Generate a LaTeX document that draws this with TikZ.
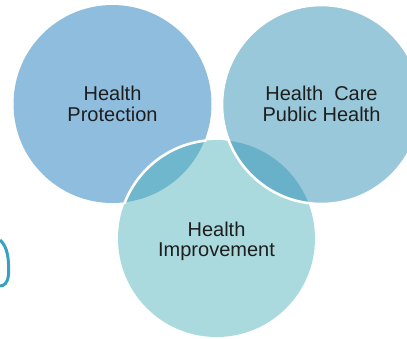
\documentclass[tikz,border=0pt]{standalone}
\usepackage{fontspec}
\setmainfont{Liberation Sans}
\definecolor{colL}{HTML}{8FBDDE}
\definecolor{colR}{HTML}{98C8DA}
\definecolor{colB}{HTML}{AADADE}
\definecolor{colLB}{HTML}{6FB7CD}
\definecolor{colRB}{HTML}{68B1C9}
\definecolor{txt}{HTML}{1E1E1E}
\definecolor{paren}{HTML}{3A9FC4}
\begin{document}
\begin{tikzpicture}[x=1pt,y=-1pt,
  lbl/.style={font=\fontsize{20}{22}\selectfont, text=txt, inner sep=0pt, anchor=base},
  rim/.style={draw=white, line width=2.6pt}]
\useasboundingbox (0,0) rectangle (407,338);
\coordinate (cl) at (112.5,104);
\coordinate (cr) at (321.5,104.5);
\coordinate (cb) at (216.5,238.5);
% base fills
\fill[colL] (cl) circle[radius=99pt];
\fill[colB] (cb) circle[radius=98.5pt];
\fill[colR] (cr) circle[radius=99.5pt];
% overlaps
\begin{scope}
  \clip (cb) circle[radius=98.5pt];
  \fill[colLB] (cl) circle[radius=99pt];
\end{scope}
\begin{scope}
  \clip (cr) circle[radius=99.5pt];
  \fill[colRB] (cb) circle[radius=98.5pt];
\end{scope}
% white rims
\begin{scope}
  \clip (cl) circle[radius=101pt];
  \draw[rim] (cb) circle[radius=98.5pt];
\end{scope}
\draw[rim] (cr) circle[radius=99.5pt];
% labels
\node[lbl] (l1) at (112.5,100.5) {Health};
\node[lbl] (l2) at (112.5,121) {Protection};
\node[lbl] (r1) at (321.5,100.5) {Health~ Care};
\node[lbl] (r2) at (321.5,121) {Public Health};
\node[lbl] (b1) at (216.5,236) {Health};
\node[lbl] (b2) at (216.5,256.7) {Improvement};
% partial bracket at left edge
\draw[paren, line width=3pt] (0,240) .. controls (8,247) and (9,260) .. (8.5,274) .. controls (8,283) and (4,286) .. (0,286);
\end{tikzpicture}
\end{document}
